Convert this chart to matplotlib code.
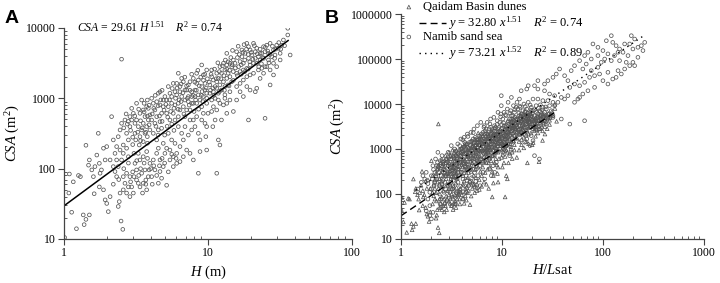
import matplotlib
matplotlib.use("Agg")
import matplotlib.pyplot as plt
import numpy as np
from matplotlib.ticker import FixedLocator, FuncFormatter, LogLocator, NullFormatter

plt.rcParams["font.family"] = ["Liberation Serif", "DejaVu Serif"]
plt.rcParams["mathtext.fontset"] = "custom"
plt.rcParams["mathtext.rm"] = "Liberation Serif"
plt.rcParams["mathtext.it"] = "Liberation Serif:italic"

# Qaidam Basin dunes: (H in m, CSA in m^2)
qaidam_pts = [
    # H 1-2 m
    (1.09, 84), (1.16, 65), (1.08, 45), (1.13, 24), (1.22, 14), (1.30, 77), (1.26, 80),
    (1.36, 22), (1.38, 16), (1.42, 19), (1.50, 22), (1.42, 215), (1.50, 133), (1.48, 112),
    (1.01, 10.5), (1.56, 96), (1.60, 77), (1.62, 44), (1.69, 156), (1.73, 318), (1.76, 55),
    (1.88, 50), (1.93, 36), (1.98, 32), (1.88, 195), (1.98, 206), (1.76, 119), (1.82, 96),
    (1.78, 86), (1.64, 107), (1.93, 133),
    # H 2-3 m
    (2.09, 133), (2.14, 549), (2.20, 256), (2.26, 165), (2.32, 206), (2.38, 285), (2.45, 355),
    (2.51, 441), (2.58, 217), (2.65, 492), (2.72, 318), (2.80, 256), (2.87, 549), (2.95, 720),
    (2.95, 492), (2.45, 184), (2.58, 165), (2.72, 195), (2.87, 396), (2.80, 148), (2.32, 133),
    (2.20, 107), (2.51, 133), (2.26, 91), (2.32, 77), (2.38, 107), (2.45, 45), (2.49, 18),
    (2.56, 13.7), (2.03, 24.5), (2.09, 40), (2.58, 77), (2.65, 62), (2.72, 86), (2.80, 55),
    (2.87, 77), (2.95, 55), (2.72, 45), (2.58, 50), (2.87, 40), (2.42, 34), (2.38, 29),
    (2.51, 3600), (2.2, 60), (2.4, 70), (2.6, 100), (2.8, 120), (2.9, 65), (2.6, 380),
    (2.75, 430), (2.9, 350), (2.7, 600), (2.8, 470),
    # H 3-4 m
    (3.03, 612), (3.11, 441), (3.19, 492), (3.37, 612), (3.55, 683), (3.65, 549), (3.75, 761),
    (3.85, 720), (3.28, 396), (3.46, 355), (3.55, 441), (3.75, 396), (3.85, 492), (3.11, 318),
    (3.37, 285), (3.65, 318), (3.95, 355), (3.19, 849), (3.46, 946), (3.79, 946), (3.95, 580),
    (3.15, 256), (3.33, 217), (3.55, 242), (3.79, 285), (3.03, 45), (3.19, 69), (3.37, 55),
    (3.55, 62), (3.75, 50), (3.85, 77), (3.65, 96), (3.46, 86), (3.19, 96), (3.11, 119),
    (3.37, 133), (3.95, 119), (3.28, 165), (3.55, 148), (3.75, 175), (3.06, 77), (3.51, 45),
    (3.70, 69), (3.90, 96), (3.28, 62), (3.06, 165), (3.0, 280), (3.1, 560), (3.25, 330),
    (3.4, 480), (3.5, 380), (3.6, 640), (3.7, 330), (3.8, 560), (3.9, 420), (3.3, 700),
    (3.6, 850), (3.9, 800), (3.0, 220), (3.4, 250), (3.8, 230), (3.0, 90), (3.2, 130),
    (3.4, 100), (3.6, 120), (3.8, 140), (3.3, 80), (3.7, 60),
    # H 4-5 m
    (4.17, 849), (4.52, 1180), (4.64, 805), (4.28, 683), (4.40, 549), (4.76, 612), (4.89, 761),
    (4.06, 492), (4.28, 441), (4.64, 466), (4.89, 946), (4.52, 355), (4.17, 318), (4.76, 375),
    (4.06, 1000), (4.40, 896), (4.64, 1240), (4.40, 165), (4.64, 133), (4.89, 107), (4.52, 62),
    (4.64, 91), (4.17, 133), (4.40, 256), (4.89, 229), (4.28, 96), (4.76, 73), (4.06, 77),
    (4.52, 195), (4.1, 600), (4.2, 720), (4.35, 400), (4.5, 780), (4.6, 560), (4.7, 950),
    (4.8, 470), (4.95, 680), (4.3, 1100), (4.8, 1300), (4.5, 300), (4.0, 100), (4.2, 110),
    (4.4, 80), (4.6, 110), (4.8, 140), (4.1, 60),
    # H 5-6 m
    (5.16, 946), (5.44, 1180), (5.90, 1240), (5.30, 761), (5.59, 849), (5.74, 612), (5.16, 612),
    (5.44, 492), (5.90, 492), (5.02, 1060), (5.74, 1630), (5.30, 1470), (5.59, 1060),
    (5.90, 805), (5.16, 58), (5.44, 133), (5.74, 107), (5.44, 184), (5.16, 195), (5.59, 256),
    (5.90, 229), (5.30, 318), (5.02, 165), (5.74, 148), (5.1, 820), (5.25, 540), (5.4, 950),
    (5.5, 650), (5.65, 1380), (5.8, 720), (5.95, 1000), (5.2, 400), (5.6, 430), (5.0, 300),
    (5.8, 350), (5.0, 120), (5.3, 90), (5.6, 160),
    # H 6-8 m
    (6.06, 1630), (6.22, 2270), (6.39, 1470), (6.74, 1720), (7.11, 1310), (7.50, 1720),
    (7.70, 1240), (7.91, 1920), (6.56, 1060), (6.92, 946), (7.30, 1060), (7.70, 849),
    (6.22, 849), (6.39, 683), (6.74, 761), (7.11, 683), (7.50, 683), (7.91, 849), (6.06, 1120),
    (6.92, 1310), (7.30, 1550), (6.39, 1240), (7.70, 1060), (6.56, 1920), (6.22, 549),
    (6.92, 549), (6.06, 119), (6.39, 126), (6.74, 148), (7.11, 184), (7.50, 165), (7.91, 133),
    (6.39, 206), (6.06, 165), (6.56, 318), (6.92, 396), (7.30, 300), (7.70, 355), (6.22, 396),
    (7.50, 492), (7.91, 492), (6.74, 256), (6.0, 140), (6.1, 1400), (6.3, 950), (6.5, 1600),
    (6.7, 1200), (6.9, 2000), (7.1, 1500), (7.3, 900), (7.5, 1300), (7.7, 2200), (7.9, 1100),
    (6.2, 700), (6.8, 600), (7.4, 800), (6.5, 900), (7.2, 1000),
    # H 8-10 m
    (8.34, 1630), (8.34, 2270), (9.04, 2980), (9.28, 2150), (9.79, 2530), (8.12, 1310),
    (8.57, 1120), (9.04, 1470), (9.53, 1630), (8.80, 946), (9.28, 1060), (9.79, 1180),
    (8.34, 849), (9.04, 761), (9.79, 849), (8.57, 1820), (9.53, 1310), (8.12, 1060), (8.57, 86),
    (8.80, 175), (9.79, 184), (9.53, 441), (8.57, 318), (9.04, 492), (8.34, 549), (9.28, 612),
    (9.79, 396), (8.12, 396), (8.80, 256), (9.66, 285), (8.1, 1700), (8.3, 1300), (8.5, 2500),
    (8.7, 1500), (8.9, 2000), (9.1, 1250), (9.3, 1800), (9.5, 2200), (9.7, 1400), (9.9, 1900),
    (8.0, 650), (8.6, 700), (9.2, 900), (9.8, 1000), (8.2, 950), (9.0, 1100),
    # H 10-15 m
    (10.3, 1550), (10.9, 1820), (11.5, 2270), (12.1, 2820), (12.8, 3150), (13.5, 4360),
    (14.2, 3150), (10.6, 2530), (11.2, 1470), (11.8, 1920), (12.4, 2270), (13.1, 2530),
    (13.8, 2270), (14.6, 2820), (10.3, 1180), (10.9, 1240), (11.5, 1390), (12.1, 1550),
    (12.8, 1720), (13.5, 1920), (14.2, 2030), (15.0, 2400), (10.6, 946), (11.2, 1000),
    (11.8, 1180), (12.4, 1310), (13.1, 1470), (13.8, 1550), (14.6, 1720), (11.8, 946),
    (13.1, 1120), (10.6, 2030), (11.5, 1720), (13.5, 2980), (11.5, 86), (12.1, 217),
    (11.8, 256), (12.1, 849), (12.4, 492), (10.9, 761), (11.5, 683), (12.8, 805), (13.5, 849),
    (14.2, 946), (15.0, 650), (11.2, 492), (10.6, 650), (13.5, 612), (14.2, 1240),
    (13.1, 1000), (10.0, 612), (10.8, 396), (10.2, 1700), (10.5, 2200), (10.8, 1400),
    (11.1, 2600), (11.4, 1900), (11.7, 3200), (12.0, 2400), (12.3, 1900), (12.6, 2900),
    (12.9, 2100), (13.2, 3500), (13.5, 2600), (13.8, 3300), (14.1, 2500), (14.4, 3800),
    (14.7, 3000), (10.4, 1300), (11.0, 1100), (12.0, 1250), (13.0, 1300), (14.0, 1500),
    (14.8, 4800),
    # H 15-25 m
    (15.8, 4600), (16.7, 3330), (18.6, 6050), (19.6, 4870), (20.7, 6050), (21.8, 5150),
    (23.0, 4360), (24.3, 5430), (15.4, 3150), (16.3, 2820), (17.2, 3910), (17.6, 3150),
    (18.1, 4360), (19.1, 3700), (20.2, 4130), (21.3, 3700), (22.4, 3910), (23.6, 4360),
    (24.9, 4600), (15.8, 2270), (16.7, 2400), (17.6, 2530), (18.6, 2670), (19.6, 2980),
    (20.7, 3150), (21.8, 3150), (23.0, 3510), (24.3, 3700), (17.2, 4870), (19.1, 5430),
    (21.3, 4600), (19.1, 492), (21.8, 1390), (21.3, 1240), (15.8, 1470), (16.7, 1630),
    (17.6, 1820), (18.6, 2030), (19.6, 2150), (20.7, 2270), (22.4, 2530), (23.6, 2670),
    (24.9, 2820), (17.6, 1060), (19.6, 1310), (15.8, 946), (23.0, 1920), (18.6, 1470),
    (24.9, 520), (16.7, 1240), (24.3, 2270), (15.0, 3500), (15.5, 2700), (16.0, 3800),
    (16.5, 4200), (17.0, 3000), (17.5, 4500), (18.0, 3500), (18.5, 5000), (19.0, 4200),
    (19.5, 3300), (15.0, 1800), (16.0, 2100), (17.0, 2200), (18.0, 2400), (19.0, 2600),
    (16.2, 5500), (17.8, 5800), (20.0, 4500), (21.0, 5600), (22.0, 4300), (23.0, 5000),
    (24.0, 3800), (22.5, 2800), (20.5, 3600), (23.5, 3100),
    # H 25-37 m
    (25.6, 5700), (28.5, 4870), (31.7, 4360), (33.4, 6750), (35.8, 9900), (35.8, 7950),
    (37.2, 4130), (27.0, 6050), (30.0, 5700), (27.7, 3910), (29.2, 4130), (26.3, 3510),
    (30.8, 5150), (32.5, 5700), (27.0, 1550), (25.6, 2820), (28.5, 3150), (30.0, 2820),
    (27.0, 2530), (31.7, 3510), (28.5, 2150), (26.3, 4360), (25.0, 5300), (26.0, 4700),
    (27.0, 4200), (28.0, 5500), (29.0, 3700), (26.5, 3200), (29.5, 5000), (31.0, 6200),
    (32.0, 5000), (34.0, 5600),
]

# Namib sand sea: (H/Lsat, CSA in m^2)
namib_pts = [
    # H/Lsat 1.4-3
    (1.47, 129), (1.59, 182), (1.72, 215), (1.85, 170), (1.93, 109), (1.78, 303), (1.65, 255),
    (2.0, 255), (2.0, 129), (1.85, 77), (1.93, 55), (2.0, 28), (1.93, 33), (1.78, 42), (2.07, 39),
    (2.07, 426), (2.17, 303), (2.25, 215), (2.32, 359), (2.41, 153), (2.51, 255), (2.6, 506),
    (2.71, 182), (2.13, 153), (2.28, 109), (2.47, 77), (2.67, 109), (2.2, 600), (2.55, 711),
    (2.36, 215), (2.63, 303), (2.05, 215), (2.44, 60), (2.26, 426), (2.71, 60), (2.51, 50),
    (2.32, 843), (2.1, 350), (2.2, 250), (2.3, 500), (2.4, 300), (2.5, 420), (2.6, 200),
    (2.7, 350), (2.8, 500), (2.9, 280), (2.15, 180), (2.35, 400), (2.55, 160), (2.75, 250),
    (2.95, 650), (2.45, 550),
    # 3-4
    (2.82, 600), (2.93, 426), (3.04, 303), (3.15, 215), (3.27, 153), (3.40, 506), (3.53, 711),
    (3.67, 359), (2.93, 843), (3.15, 1190), (3.40, 1000), (2.82, 255), (3.04, 109), (3.27, 77),
    (3.53, 109), (3.67, 182), (2.93, 153), (3.15, 330), (3.40, 255), (3.65, 1300), (2.87, 71),
    (3.19, 55), (3.46, 60), (3.11, 711), (3.33, 390), (2.76, 129), (3.60, 215), (3.05, 450),
    (3.1, 600), (3.2, 380), (3.3, 700), (3.35, 300), (3.45, 900), (3.5, 450), (3.6, 600),
    (3.7, 800), (3.8, 400), (3.9, 700), (3.95, 1000), (3.1, 180), (3.3, 200), (3.5, 250),
    (3.7, 300), (3.9, 150), (3.25, 130), (3.55, 90), (3.85, 120),
    # 4-6
    (3.81, 1190), (3.96, 843), (4.11, 600), (4.27, 426), (4.43, 1000), (4.61, 711), (4.79, 1410),
    (4.97, 920), (3.81, 506), (3.96, 303), (4.11, 215), (4.27, 153), (4.43, 255), (4.61, 359),
    (4.79, 506), (3.92, 1670), (4.22, 1820), (4.54, 2150), (4.93, 2340), (3.81, 109),
    (4.11, 77), (4.43, 109), (4.79, 182), (4.68, 153), (4.27, 1410), (3.96, 506), (4.93, 600),
    (3.75, 255), (4.54, 1300), (4.05, 900), (4.15, 1100), (4.25, 800), (4.35, 1300),
    (4.5, 700), (4.6, 1100), (4.7, 850), (4.85, 1200), (5.0, 1500), (5.1, 800), (5.2, 1100),
    (5.3, 1400), (5.45, 950), (5.55, 1250), (5.65, 1700), (5.75, 1100), (5.85, 1600),
    (5.95, 1250), (4.2, 500), (4.4, 400), (4.65, 450), (4.9, 350), (5.1, 420), (5.35, 300),
    (5.6, 650), (5.9, 500), (4.5, 200), (5.0, 230), (5.5, 190), (4.1, 1600), (4.6, 1900),
    (5.2, 2300),
    # 5-7
    (5.18, 1670), (5.36, 1190), (5.58, 843), (5.79, 1410), (6.02, 1980), (6.25, 1000),
    (6.49, 2340), (6.74, 1670), (5.18, 711), (5.36, 506), (5.58, 359), (5.79, 255), (6.02, 426),
    (6.25, 600), (6.49, 303), (6.74, 215), (5.28, 2780), (5.71, 3300), (6.17, 3910),
    (6.63, 3030), (5.04, 1090), (5.45, 1820), (5.89, 920), (6.36, 1300), (6.85, 843),
    (5.21, 166), (6.07, 153), (6.55, 506), (5.63, 550), (6.25, 2150),
    # 7-9
    (6.98, 2780), (7.26, 1980), (7.53, 1410), (7.84, 2340), (8.16, 1670), (8.45, 3300),
    (8.80, 2150), (9.13, 2780), (6.98, 1190), (7.26, 843), (7.53, 600), (7.84, 1000),
    (8.16, 711), (8.45, 1190), (8.80, 843), (9.13, 1410), (7.14, 3910), (7.71, 4640),
    (8.31, 5050), (8.99, 4250), (6.98, 506), (7.53, 359), (8.16, 426), (8.80, 506),
    (7.38, 1670), (7.96, 1820), (8.58, 1980), (6.85, 2150), (7.71, 3030), (9.13, 1980),
    (8.45, 303), (7.84, 255), (6.1, 1700), (6.3, 1300), (6.45, 1800), (6.6, 1400), (6.8, 2500),
    (6.9, 1900), (7.1, 2200), (7.3, 1500), (7.45, 2800), (7.6, 1800), (7.8, 2100), (8.0, 2700),
    (8.2, 2000), (8.4, 2500), (8.6, 3000), (8.75, 2400), (8.95, 3500), (6.2, 900), (6.6, 800),
    (7.0, 950), (7.4, 1100), (7.8, 1300), (8.2, 1500), (8.6, 1400), (9.0, 1700), (6.4, 500),
    (7.2, 650), (8.0, 700), (8.8, 900), (6.7, 3300), (7.6, 3600),
    # 9-13
    (9.5, 3910), (9.85, 2780), (10.2, 4640), (10.6, 3300), (11.0, 5510), (11.5, 3910),
    (11.9, 4640), (12.4, 5510), (9.5, 1980), (9.85, 1670), (10.2, 2340), (10.6, 1410),
    (11.0, 1980), (11.5, 2340), (11.9, 2780), (12.4, 3300), (9.73, 6000), (10.5, 6530),
    (11.3, 7740), (12.2, 7100), (9.5, 1000), (10.2, 843), (11.0, 1190), (11.9, 711),
    (10.0, 1300), (10.8, 920), (11.7, 1530), (9.13, 6530), (9.85, 9180), (11.5, 10900),
    (9.3, 3000), (9.6, 2400), (9.9, 3500), (10.1, 2900), (10.4, 3800), (10.7, 2600),
    (11.0, 3300), (11.3, 2800), (11.6, 4200), (11.9, 3600), (12.2, 4000), (12.5, 4600),
    (12.8, 3400), (9.4, 1500), (10.0, 1800), (10.6, 2000), (11.2, 1700), (11.8, 2200),
    (12.4, 2500), (9.7, 5200), (10.8, 5800), (12.0, 6300), (10.3, 1200),
    # 13-18
    (12.8, 5510), (13.3, 6530), (13.8, 4640), (14.4, 7740), (14.9, 5510), (15.5, 6000),
    (16.1, 7100), (16.8, 6530), (12.8, 3300), (13.3, 2780), (13.8, 3580), (14.4, 3910),
    (14.9, 2780), (15.5, 4250), (16.1, 3300), (16.8, 4640), (13.0, 9180), (14.1, 10900),
    (15.2, 8430), (16.5, 10000), (13.3, 1980), (14.6, 2150), (15.7, 2340), (17.6, 3030),
    (12.8, 3910), (13.8, 8430), (14.9, 12900), (12.4, 14000), (15.5, 19700), (9.85, 15300),
    (13.1, 4300), (13.5, 5100), (13.9, 3900), (14.3, 4500), (14.7, 6300), (15.1, 4900),
    (15.5, 5400), (15.9, 4000), (16.3, 5800), (16.7, 5200), (17.1, 6800), (17.5, 5600),
    (18.0, 6200), (18.5, 4800), (19.0, 5800), (19.5, 7200), (13.6, 2600), (14.8, 3300),
    (16.0, 2600), (17.2, 3600), (18.6, 3900), (13.4, 7500), (15.0, 9000), (17.0, 8800),
    (19.0, 9500),
    # 17-36
    (17.6, 7740), (18.2, 5510), (19.0, 6530), (19.5, 8430), (20.3, 7100), (21.0, 5510),
    (21.8, 9180), (22.7, 6000), (23.5, 7100), (24.5, 5510), (25.4, 8430), (26.4, 6530),
    (27.5, 7740), (28.5, 6000), (29.6, 9180), (30.8, 7100), (32.0, 5510), (18.2, 3910),
    (19.5, 4640), (21.0, 3910), (22.7, 4250), (24.5, 4640), (26.4, 4250), (28.5, 4640),
    (17.6, 4640), (19.0, 3030), (20.3, 2780), (21.8, 3300), (23.5, 2780), (19.5, 1980),
    (20.3, 1530), (19.0, 1190), (21.0, 711), (23.5, 600), (17.6, 1670), (16.8, 1410),
    (18.2, 10900), (20.3, 12900), (22.7, 12900), (25.4, 11900), (28.5, 11900), (32.0, 10900),
    (33.2, 9180), (33.2, 15300), (29.6, 16700), (26.4, 19700), (22.7, 21500), (32.0, 5050),
    (20.0, 6200), (21.0, 7500), (22.0, 6500), (23.0, 8000), (24.0, 6800), (25.0, 7400),
    (26.0, 5800), (27.0, 8600), (22.5, 4900), (25.5, 5200), (20.5, 4300), (24.0, 9600),
    # upper band
    (17.6, 21500), (18.2, 25500), (21.0, 25500), (22.7, 33000), (26.4, 27800), (28.5, 33000),
    (32.0, 39100), (34.5, 46400), (37.2, 60000), (41.7, 42600), (45, 33000), (48.5, 55100),
    (52.3, 71100), (58.7, 92000), (63.2, 60000), (65.8, 119000), (68.3, 77400), (71, 141000),
    (76.6, 100000), (79.6, 216000), (89.2, 182000), (89.2, 119000), (96.2, 84300),
    (100, 154000), (104, 100000), (108, 255000), (112, 130000), (121, 330000), (121, 92000),
    (125, 234000), (130, 119000), (135, 198000), (141, 141000), (146, 167000), (158, 141000),
    (164, 216000), (177, 119000), (184, 216000), (191, 330000), (198, 167000), (206, 278000),
    (222, 182000), (240, 198000), (249, 154000), (259, 234000),
    # lower band
    (35.8, 10900), (38.7, 14000), (41.7, 12900), (45, 15300), (47, 23400), (52.3, 27800),
    (52.3, 10900), (56.5, 12900), (58.7, 25500), (58.7, 14000), (63.2, 16700), (65.8, 30300),
    (71, 19700), (73.7, 39100), (76.6, 55100), (82.6, 42600), (82.6, 23400), (89.2, 65300),
    (92.6, 46400), (100, 33000), (112, 50600), (112, 27800), (125, 35900), (135, 39100),
    (141, 55100), (152, 46400), (164, 60000), (170, 84300), (184, 71100), (198, 84300),
    (206, 71100), (222, 109000), (146, 92000),
    (65.8, 4250), (47, 3580), (38.7, 4640),
]

# fitted power laws printed on the chart
fit_a = (29.61, 1.51)
fit_qaidam = (32.80, 1.51)
fit_namib = (73.21, 1.52)
L_SAT = 1.07  # Qaidam H -> H/Lsat

qaidam = np.array(qaidam_pts)
namib = np.array(namib_pts)

GREY = "#555555"
MK = dict(s=7, facecolors="none", edgecolors=GREY, linewidths=0.55)


def style_axes(ax, ymax):
    ax.set_xscale("log")
    ax.set_yscale("log")
    for side in ("top", "right"):
        ax.spines[side].set_visible(False)
    for side in ("left", "bottom"):
        ax.spines[side].set_color("#444444")
        ax.spines[side].set_linewidth(0.9)
    ax.tick_params(which="major", direction="out", length=4, width=0.8,
                   color="#444444", labelsize=8.5, pad=2)
    ax.tick_params(which="minor", direction="in", length=2.5, width=0.6,
                   color="#444444")
    ax.xaxis.set_minor_locator(LogLocator(base=10, subs=range(2, 10), numticks=20))
    ax.yaxis.set_minor_locator(LogLocator(base=10, subs=range(2, 10), numticks=20))
    ax.xaxis.set_minor_formatter(NullFormatter())
    ax.yaxis.set_minor_formatter(NullFormatter())
    fmt = FuncFormatter(lambda v, p: f"{v:.0f}")
    ax.xaxis.set_major_formatter(fmt)
    ax.yaxis.set_major_formatter(fmt)
    ax.set_ylim(10, ymax)
    ax.yaxis.set_major_locator(FixedLocator(10.0 ** np.arange(1, np.log10(ymax) + 1)))


fig = plt.figure(figsize=(7.2, 2.83), dpi=100)

# ---- panel A
ax1 = fig.add_axes([0.0889, 0.1555, 0.40, 0.7456])
ax1.scatter(qaidam[:, 0], qaidam[:, 1], marker="o", **MK)
hx = np.array([1.0, 36.0])
ax1.plot(hx, fit_a[0] * hx ** fit_a[1], color="black", lw=1.1)
style_axes(ax1, 1e4)
ax1.set_xlim(1, 100)
ax1.xaxis.set_major_locator(FixedLocator([1, 10, 100]))
ax1.set_xlabel(r"$\mathit{H}$ (m)", fontsize=10.5, labelpad=3)
ax1.set_ylabel(r"$\mathit{CSA}$ (m$^2$)", fontsize=10.5, labelpad=3)
ax1.text(0.045, 1.005, r"$\mathit{CSA}$ = 29.61 $\mathit{H}^{1.51}$    $\mathit{R}^2$ = 0.74",
         transform=ax1.transAxes, fontsize=8.5, va="center", ha="left")

# ---- panel B
ax2 = fig.add_axes([0.5569, 0.1555, 0.4208, 0.795])
ax2.scatter(qaidam[:, 0] / L_SAT, qaidam[:, 1], marker="^", **MK)
ax2.scatter(namib[:, 0], namib[:, 1], marker="o", **MK)
qx = np.array([1.0, 35.0])
ax2.plot(qx, fit_qaidam[0] * qx ** fit_qaidam[1], color="black", lw=1.0,
         ls=(0, (5, 3)))
nx = np.array([1.4, 260.0])
ax2.plot(nx, fit_namib[0] * nx ** fit_namib[1], color="black", lw=1.0,
         ls=(0, (1, 3)))
style_axes(ax2, 1e6)
ax2.set_xlim(1, 1000)
ax2.xaxis.set_major_locator(FixedLocator([1, 10, 100, 1000]))
ax2.set_xlabel(r"$\mathit{H/L}$sat", fontsize=10.5, labelpad=3)
ax2.set_ylabel(r"$\mathit{CSA}$ (m$^2$)", fontsize=10.5, labelpad=3)

# legend drawn by hand (Origin style)
rows = [1.031, 0.960, 0.898, 0.827]
ax2.scatter([0.026], [rows[0]], marker="^", transform=ax2.transAxes, clip_on=False, **MK)
ax2.scatter([0.026], [rows[2]], marker="o", transform=ax2.transAxes, clip_on=False, **MK)
ax2.plot([0.059, 0.150], [rows[1]] * 2, color="black", lw=1.0, ls=(0, (5, 3)),
         transform=ax2.transAxes, clip_on=False)
ax2.plot([0.059, 0.150], [rows[3]] * 2, color="black", lw=1.0, ls=(0, (1, 3)),
         transform=ax2.transAxes, clip_on=False)
ax2.text(0.073, rows[0], "Qaidam Basin dunes", transform=ax2.transAxes,
         fontsize=9, va="center")
ax2.text(0.073, rows[2], "Namib sand sea", transform=ax2.transAxes,
         fontsize=9, va="center")
ax2.text(0.155, rows[1], r"$\mathit{y}$ = 32.80 $\mathit{x}^{1.51}$    $\mathit{R}^2$ = 0.74",
         transform=ax2.transAxes, fontsize=9, va="center")
ax2.text(0.155, rows[3], r"$\mathit{y}$ = 73.21 $\mathit{x}^{1.52}$    $\mathit{R}^2$ = 0.89",
         transform=ax2.transAxes, fontsize=9, va="center")

fig.text(0.006, 0.918, "A", fontsize=14, fontweight="bold", family="Liberation Sans")
fig.text(0.451, 0.918, "B", fontsize=14, fontweight="bold", family="Liberation Sans")

fig.savefig("out.png", dpi=100)
